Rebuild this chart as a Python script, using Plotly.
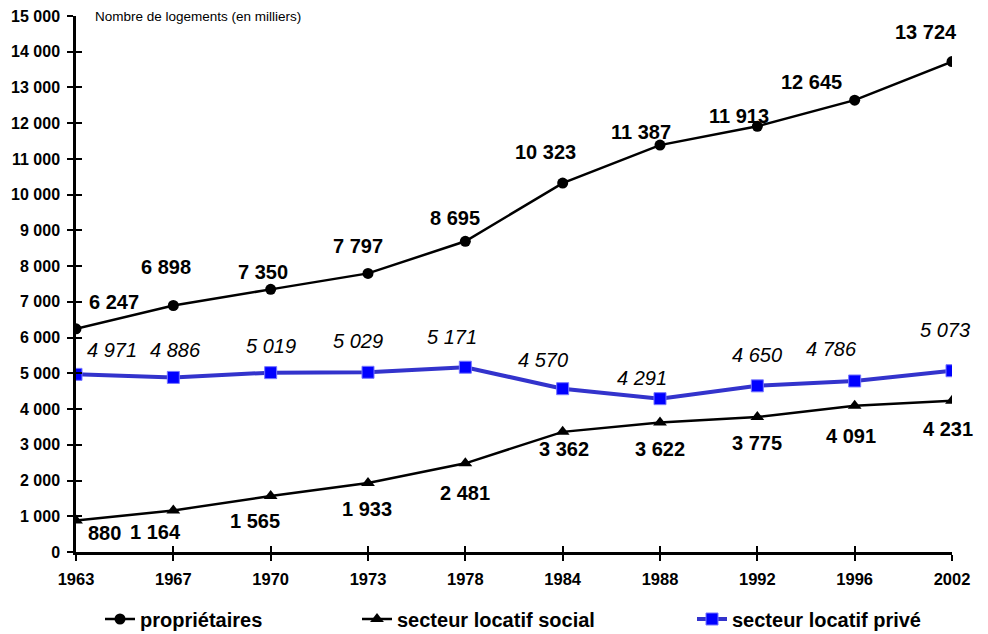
import plotly.graph_objects as go

# Housing stock by occupancy status (thousands of dwellings)
years = ["1963", "1967", "1970", "1973", "1978", "1984", "1988", "1992", "1996", "2002"]
proprietaires = [6247, 6898, 7350, 7797, 8695, 10323, 11387, 11913, 12645, 13724]
locatif_social = [880, 1164, 1565, 1933, 2481, 3362, 3622, 3775, 4091, 4231]
locatif_prive = [4971, 4886, 5019, 5029, 5171, 4570, 4291, 4650, 4786, 5073]
y_ticks = list(range(0, 15001, 1000))

# Label offsets in pixels (dx, dy) relative to each point
off_prop = [(38, 27), (-7, 39), (-8, 17), (-10, 27), (-10, 23), (-17, 31), (-19, 13), (-18, 10), (-43, 18), (-26, 30)]
off_soc = [(28, -12), (-18, -22), (-16, -25), (-1, -26), (0, -30), (1, -17), (0, -26), (0, -26), (-4, -30), (-4, -28)]
off_prive = [(36, 24), (2, 27), (0, 27), (-10, 31), (-13, 30), (-20, 29), (-18, 21), (0, 31), (-23, 32), (-7, 41)]


def fmt(v):
    return f"{v:,}".replace(",", " ")


FONT = "Liberation Sans"

fig = go.Figure()

fig.add_trace(go.Scatter(
    x=years, y=proprietaires, name="propriétaires", mode="lines+markers",
    line=dict(color="black", width=2.5),
    marker=dict(symbol="circle", size=11, color="black"),
    legend="legend",
))
fig.add_trace(go.Scatter(
    x=years, y=locatif_social, name="secteur locatif social", mode="lines+markers",
    line=dict(color="black", width=2.5),
    marker=dict(symbol="triangle-up", size=12, color="black"),
    legend="legend2",
))
fig.add_trace(go.Scatter(
    x=years, y=locatif_prive, name="secteur locatif privé", mode="lines+markers",
    line=dict(color="#3333CC", width=4),
    marker=dict(symbol="square", size=12, color="#0000FF", line=dict(color="#7777FF", width=1)),
    legend="legend3",
))

bold_lbl = dict(family=FONT, size=20, color="black", weight="bold")
ital_lbl = dict(family=FONT, size=20, color="black", style="italic")

annotations = []
for series, offs, font in [
    (proprietaires, off_prop, bold_lbl),
    (locatif_social, off_soc, bold_lbl),
    (locatif_prive, off_prive, ital_lbl),
]:
    for i, (v, (dx, dy)) in enumerate(zip(series, offs)):
        annotations.append(dict(
            x=i, y=v, text=fmt(v), showarrow=False, xref="x", yref="y",
            xshift=dx, yshift=dy, font=font,
        ))

annotations.append(dict(
    text="Nombre de logements (en milliers)", xref="paper", yref="paper",
    x=(93 - 76) / 876, y=1.0, xanchor="left", yanchor="middle", showarrow=False,
    font=dict(family=FONT, size=13.5, color="black"),
))

legend_font = dict(family=FONT, size=20, color="black", weight="bold")
legend_common = dict(xref="container", yref="container", xanchor="left", yanchor="middle",
                     y=1 - 619 / 634, orientation="h", font=legend_font,
                     itemwidth=30, bgcolor="rgba(0,0,0,0)")

fig.update_layout(
    width=988, height=634,
    margin=dict(l=76, r=36, t=16, b=82, autoexpand=False),
    paper_bgcolor="white", plot_bgcolor="white",
    annotations=annotations,
    xaxis=dict(
        type="category", range=[0, len(years) - 1], showgrid=False, zeroline=False,
        showline=True, linecolor="black", linewidth=2.5,
        ticks="outside", ticklen=6, tickwidth=2, tickcolor="black",
        tickfont=dict(family=FONT, size=16.5, color="black", weight="bold"),
        ticklabelstandoff=4,
    ),
    yaxis=dict(
        range=[0, 15000], tickvals=y_ticks, ticktext=[fmt(t) for t in y_ticks],
        showgrid=False, zeroline=False, showline=True, linecolor="black", linewidth=2.5,
        ticks="outside", ticklen=6, tickwidth=2, tickcolor="black",
        tickfont=dict(family=FONT, size=16, color="black", weight="bold"),
        ticklabelstandoff=4,
    ),
    xaxis2=dict(
        type="category", range=[0, len(years) - 1], overlaying="x", matches="x",
        showgrid=False, zeroline=False, showticklabels=False,
        ticks="inside", ticklen=6, tickwidth=2, tickcolor="black",
    ),
    yaxis2=dict(
        range=[0, 15000], tickvals=y_ticks, overlaying="y",
        showgrid=False, zeroline=False, showticklabels=False,
        ticks="inside", ticklen=6, tickwidth=2, tickcolor="black",
    ),
    legend=dict(x=100 / 988, **legend_common),
    legend2=dict(x=357 / 988, **legend_common),
    legend3=dict(x=692 / 988, **legend_common),
)

# invisible trace to activate the overlay axes carrying the inner tick marks
fig.add_trace(go.Scatter(x=[years[0]], y=[0], xaxis="x2", yaxis="y2", mode="markers",
                         marker=dict(opacity=0), showlegend=False, hoverinfo="skip"))

fig.write_html("out.html")
